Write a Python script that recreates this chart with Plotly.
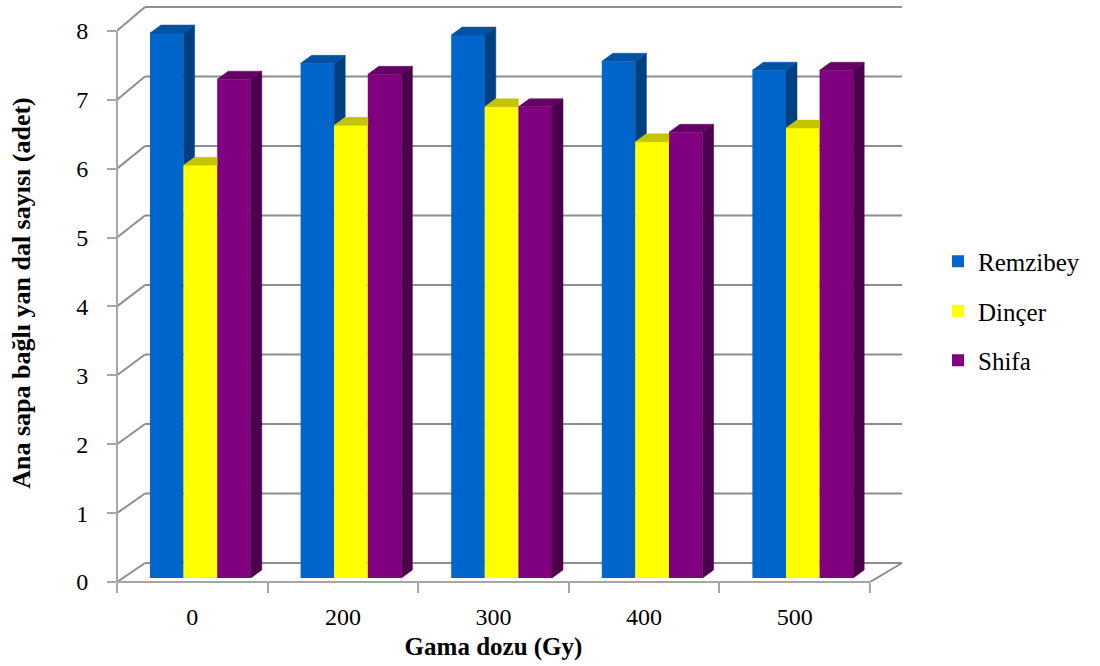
import plotly.graph_objects as go

# ---------------- data ----------------
categories = ["0", "200", "300", "400", "500"]
series_names = ["Remzibey", "Dinçer", "Shifa"]
remzibey = [7.91, 7.47, 7.88, 7.50, 7.37]
dincer = [5.99, 6.57, 6.84, 6.33, 6.53]
shifa = [7.24, 7.31, 6.84, 6.47, 7.37]
y_tick_values = [0, 1, 2, 3, 4, 5, 6, 7, 8]
x_title = "Gama dozu (Gy)"
y_title = "Ana sapa bağlı yan dal sayısı (adet)"

series_values = [remzibey, dincer, shifa]

# ---------------- styling ----------------
front_colors = ["#0066CC", "#FFFF00", "#800080"]
top_colors = ["#0052A3", "#C4C400", "#650065"]
side_colors = ["#003F80", "#A8A800", "#4C004C"]
grid_color = "#8E8E8E"
axis_color = "#A6A6A6"
FONT = "Liberation Serif, Times New Roman, serif"

# plot geometry (pixels)
L_PX, R_PX = 117, 870
T_PX, B_PX = 4, 582
PX_PER_Y = 68.9
n = len(categories)
px_per_x = (R_PX - L_PX) / n
ymax = (B_PX - T_PX) / PX_PER_Y

bar_w = 33.6 / px_per_x
group_left = (150 - (L_PX + px_per_x / 2)) / px_per_x
offsets = [group_left + k * bar_w for k in range(3)]
base = 4 / PX_PER_Y
dep_dx = 11 / px_per_x
dep_dy = 8 / PX_PER_Y

fig = go.Figure()

# front faces of bars
for k, name in enumerate(series_names):
    fig.add_trace(go.Bar(
        x=list(range(n)), y=series_values[k], base=base,
        width=bar_w, offset=offsets[k], name=name,
        marker=dict(color=front_colors[k], line=dict(width=0)),
        legendgroup=name,
    ))

# 3D side and top faces
for k in range(3):
    sx, sy, tx, ty = [], [], [], []
    for i in range(n):
        lx = i + offsets[k]
        rx = lx + bar_w
        top = base + series_values[k][i]
        nxt = base + series_values[k + 1][i] if k < 2 else None
        # side face
        if nxt is None:
            sx += [rx, rx, rx + dep_dx, rx + dep_dx, rx, None]
            sy += [base, top, top + dep_dy, base + dep_dy, base, None]
        elif top > nxt:
            sx += [rx, rx, rx + dep_dx, rx + dep_dx, rx, None]
            sy += [nxt, top, top + dep_dy, nxt + dep_dy, nxt, None]
        # top face
        if nxt is not None and nxt >= top:
            tx += [lx, rx, rx, lx + dep_dx, lx, None]
            ty += [top, top, top + dep_dy, top + dep_dy, top, None]
        else:
            tx += [lx, rx, rx + dep_dx, lx + dep_dx, lx, None]
            ty += [top, top, top + dep_dy, top + dep_dy, top, None]
    fig.add_trace(go.Scatter(x=sx, y=sy, mode="lines", fill="toself",
                             fillcolor=side_colors[k],
                             line=dict(color=side_colors[k], width=0.5),
                             showlegend=False, hoverinfo="skip"))
    fig.add_trace(go.Scatter(x=tx, y=ty, mode="lines", fill="toself",
                             fillcolor=top_colors[k],
                             line=dict(color=top_colors[k], width=0.5),
                             showlegend=False, hoverinfo="skip"))

# walls: back gridlines and left-wall diagonals
plot_w = R_PX - L_PX
back_left = (145 - L_PX) / plot_w
back_right = (902 - L_PX) / plot_w
shapes = []
for k in y_tick_values:
    yb = (19 + 69.5 * k) / PX_PER_Y
    shapes.append(dict(type="line", xref="paper", yref="y",
                       x0=back_left, x1=back_right, y0=yb, y1=yb,
                       line=dict(color=grid_color, width=2), layer="below"))
    shapes.append(dict(type="line", xref="paper", yref="y",
                       x0=0, x1=back_left, y0=k, y1=yb,
                       line=dict(color=grid_color, width=2), layer="below"))
# floor right edge
yb0 = 19 / PX_PER_Y
shapes.append(dict(type="line", xref="paper", yref="y", x0=1, x1=back_right,
                   y0=0, y1=yb0, line=dict(color=grid_color, width=2), layer="below"))
# front floor line (x axis)
shapes.append(dict(type="line", xref="paper", yref="paper", x0=0, x1=1,
                   y0=0, y1=0, line=dict(color=axis_color, width=2), layer="below"))
# front vertical axis line
shapes.append(dict(type="line", xref="paper", yref="y", x0=0, x1=0,
                   y0=0, y1=max(y_tick_values),
                   line=dict(color=axis_color, width=2), layer="below"))

fig.update_layout(
    width=1100, height=666,
    margin=dict(l=L_PX, r=1100 - R_PX, t=T_PX, b=666 - B_PX, autoexpand=False),
    paper_bgcolor="white", plot_bgcolor="white",
    barmode="overlay",
    shapes=shapes,
    font=dict(family=FONT, color="black", size=24),
    xaxis=dict(
        range=[-0.5, n - 0.5], tickmode="array",
        tickvals=list(range(n)), ticktext=categories,
        ticks="", showgrid=False, zeroline=False, showline=False,
        ticklabelstandoff=18,
        tickfont=dict(family=FONT, size=24, color="black"),
        minor=dict(tickmode="linear", tick0=-0.5, dtick=1, ticks="outside",
                   ticklen=10, tickwidth=2, tickcolor=axis_color, showgrid=False),
        title=dict(text="<b>" + x_title + "</b>", standoff=8,
                   font=dict(family=FONT, size=25, color="black")),
    ),
    yaxis=dict(
        range=[0, ymax], tickmode="array", tickvals=y_tick_values,
        ticks="outside", ticklen=9, tickwidth=2, tickcolor=axis_color,
        showgrid=False, zeroline=False, showline=False,
        ticklabelstandoff=14,
        tickfont=dict(family=FONT, size=24, color="black"),
        title=dict(text="<b>" + y_title + "</b>", standoff=38,
                   font=dict(family=FONT, size=26, color="black")),
    ),
    legend=dict(
        x=(938 - L_PX) / plot_w, xanchor="left",
        y=(B_PX - 311) / (B_PX - T_PX), yanchor="middle",
        font=dict(family=FONT, size=25, color="black"),
        traceorder="grouped", tracegroupgap=14,
        bgcolor="rgba(0,0,0,0)",
    ),
)

fig.write_html("out.html")
